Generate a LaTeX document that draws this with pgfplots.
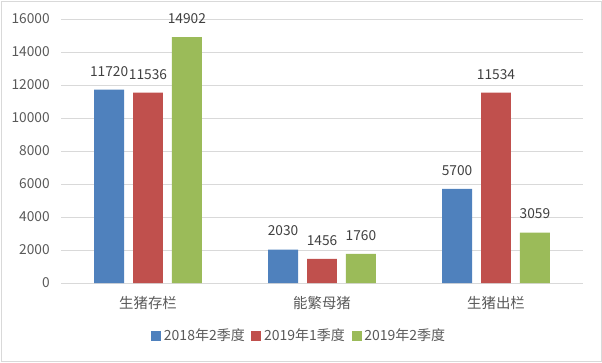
\documentclass[border=0pt]{standalone}
\usepackage{fontspec}
\setmainfont{Noto Sans CJK SC}
\usepackage{pgfplots}
\pgfplotsset{compat=1.18}
\definecolor{cBlue}{HTML}{4F81BD}
\definecolor{cRed}{HTML}{C0504D}
\definecolor{cGreen}{HTML}{9BBB59}
\definecolor{cGrid}{HTML}{D9D9D9}
\definecolor{cText}{HTML}{595959}
\definecolor{cLab}{HTML}{404040}
\pgfplotsset{sqlegend/.style={legend image code/.code={\fill[##1] (0pt,-3.75pt) rectangle (7.5pt,3.75pt);}}}
\begin{document}
\begin{tikzpicture}
\useasboundingbox (0,0) rectangle (451.5pt,271.5pt);
\draw[cGrid,line width=0.75pt] (0.75pt,0.75pt) rectangle (450.75pt,270.75pt);
\begin{axis}[
  at={(45.75pt,59.25pt)}, anchor=south west,
  scale only axis, width=391.5pt, height=198pt,
  ybar, bar width=0.172,
  xmin=-0.5, xmax=2.5, ymin=0, ymax=16000,
  xtick={0,1,2}, xticklabels={生猪存栏,能繁母猪,生猪出栏},
  ytick={0,2000,...,16000},
  scaled y ticks=false,
  yticklabel={\pgfmathprintnumber[fixed,precision=0,1000 sep={}]{\tick}},
  ymajorgrids, grid style={cGrid,line width=0.75pt},
  axis line style={draw=none}, tick style={draw=none},
  /pgf/number format/assume math mode=true,
  /pgf/number format/1000 sep={},
  yticklabel style={font=\fontsize{10.3}{12}\selectfont, text=cText, xshift=-5pt},
  xticklabel style={font=\fontsize{10.8}{12}\selectfont, text=cText, yshift=-2pt},
  nodes near coords,
  every node near coord/.append style={font=\fontsize{10.3}{12}\selectfont, text=cLab, anchor=south, yshift=6.5pt},
  legend style={draw=none, fill=none, at={(0.457,-0.201)}, anchor=center,
    font=\fontsize{10.5}{12}\selectfont, text=cText,
    /tikz/every even column/.append style={column sep=3pt}},
  legend columns=-1,
]
\addplot[draw=none, fill=cBlue, bar shift=-0.2235, sqlegend] coordinates {(0,11720) (1,2030) (2,5700)};
\addplot[draw=none, fill=cRed, bar shift=0, sqlegend] coordinates {(0,11536) (1,1456) (2,11534)};
\addplot[draw=none, fill=cGreen, bar shift=0.2235, sqlegend] coordinates {(0,14902) (1,1760) (2,3059)};
\legend{2018年2季度,2019年1季度,2019年2季度}
\end{axis}
\end{tikzpicture}
\end{document}
